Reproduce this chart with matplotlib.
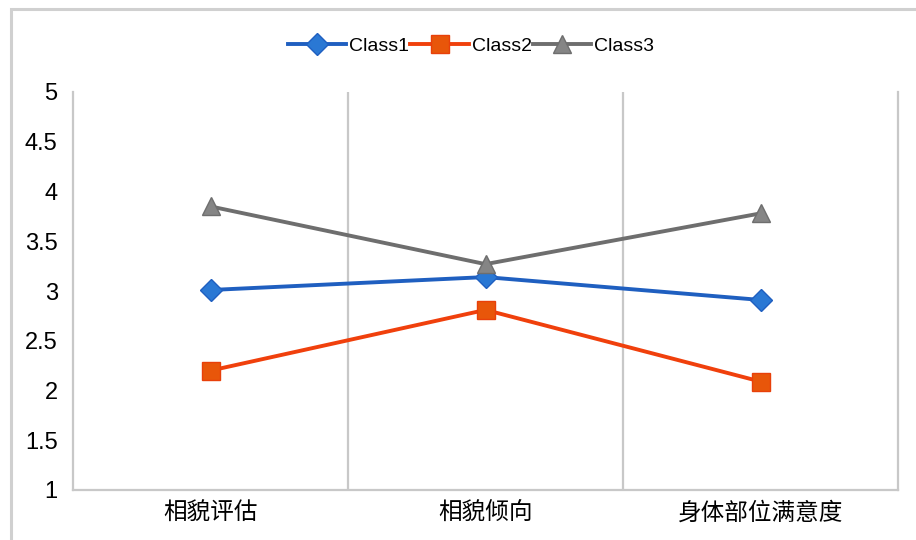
import matplotlib.pyplot as plt
from matplotlib.patches import Rectangle

plt.rcParams['font.family'] = ['Liberation Sans', 'Noto Sans CJK SC', 'DejaVu Sans']

# data
categories = ['相貌评估', '相貌倾向', '身体部位满意度']
class1 = [3.01, 3.14, 2.91]
class2 = [2.20, 2.81, 2.09]
class3 = [3.85, 3.27, 3.78]
yticks = [1, 1.5, 2, 2.5, 3, 3.5, 4, 4.5, 5]
ytick_labels = ['1', '1.5', '2', '2.5', '3', '3.5', '4', '4.5', '5']

fig = plt.figure(figsize=(9.16, 5.4), dpi=100)
# outer chart border (cropped on right/bottom)
fig.patches.append(Rectangle((11 / 916, -0.05), 1.0, 1 - 9 / 540 + 0.05,
                             transform=fig.transFigure, fill=False,
                             edgecolor='#d0d0d0', linewidth=2.2))

ax = fig.add_axes([73 / 916, 50 / 540, (898 - 73) / 916, (490 - 92) / 540])
x = range(len(categories))

ax.plot(x, class1, color='#1f5fc0', lw=2.8, marker='D', ms=11,
        mfc='#2a78d4', mec='#1f5fc0', label='Class1', zorder=3)
ax.plot(x, class2, color='#f0400c', lw=2.8, marker='s', ms=13,
        mfc='#e8560a', mec='#e8400a', label='Class2', zorder=3)
ax.plot(x, class3, color='#6e6e6e', lw=2.8, marker='^', ms=13,
        mfc='#858585', mec='#6e6e6e', label='Class3', zorder=3)

ax.set_xlim(-0.5, 2.5)
ax.set_ylim(1, 5)
ax.set_yticks(yticks)
ax.set_yticklabels(ytick_labels, fontsize=17)
ax.set_xticks(list(x))
ax.set_xticklabels(categories, fontsize=17)
ax.tick_params(axis='y', length=0, pad=11)
ax.tick_params(axis='x', length=0, pad=9)

# category separators
for b in [0.5, 1.5]:
    ax.axvline(b, color='#c8c8c8', lw=1.6, zorder=1)

ax.spines['top'].set_visible(False)
for s in ['left', 'right', 'bottom']:
    ax.spines[s].set_color('#c8c8c8')
    ax.spines[s].set_linewidth(1.6)

fig.legend(loc='center', bbox_to_anchor=(471 / 916, 1 - 46 / 540), ncol=3,
           frameon=False, fontsize=14, handlelength=3.0, handletextpad=0.15,
           columnspacing=0.05)

fig.savefig('out.png', dpi=100)
